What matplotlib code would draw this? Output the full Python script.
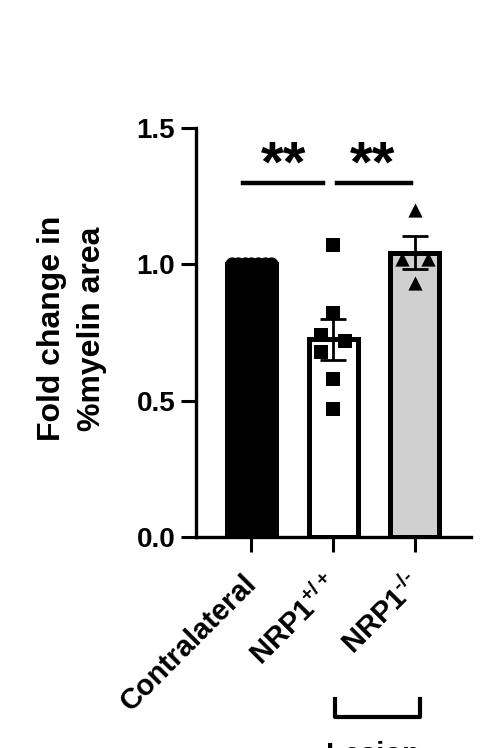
import numpy as np
import matplotlib
matplotlib.use('Agg')
import matplotlib.pyplot as plt
import matplotlib.transforms as mtransforms

plt.rcParams['font.family'] = ['Liberation Sans', 'DejaVu Sans']
plt.rcParams['font.weight'] = 'bold'
plt.rcParams['mathtext.fontset'] = 'custom'
plt.rcParams['mathtext.rm'] = 'Liberation Sans:bold'
plt.rcParams['mathtext.bf'] = 'Liberation Sans:bold'

# data
groups = ['Contralateral', r'NRP1$^{+/+}$', r'NRP1$^{\text{-/-}}$']
contra_pts = [1.0, 1.0, 1.0, 1.0, 1.0, 1.0, 1.0]
wt_pts = [1.07, 0.82, 0.74, 0.72, 0.68, 0.58, 0.47]
ko_pts = [1.20, 1.02, 1.02, 0.93]
ko_sem_up = 0.06
wt_sem_up = 0.075
sig_labels = ['**', '**']

points = [contra_pts, wt_pts, ko_pts]
means = [np.mean(p) for p in points]
sems = [0.0, wt_sem_up, ko_sem_up]
fills = ['black', 'white', '#d0d0d0']
markers = ['o', 's', '^']

fig = plt.figure(figsize=(4.97, 7.48), dpi=100)
ax = fig.add_axes([196/497, 211/748, (471-196)/497, (537-128)/748])

x = np.arange(len(groups))
ax.bar(x, means, width=0.6, color=fills, edgecolor='black', linewidth=3.6, zorder=2)
ax.errorbar(x[1:], means[1:], yerr=sems[1:], fmt='none', ecolor='black',
            elinewidth=2.0, capsize=9.5, capthick=2.0, zorder=3)

# scatter of individual values
offsets = {0: np.linspace(-0.24, 0.24, len(contra_pts)),
           1: [0, 0, -0.15, 0.15, -0.15, 0, 0],
           2: [0, -0.16, 0.16, 0]}
for i, pts in enumerate(points):
    ax.scatter(x[i] + np.array(offsets[i]), pts, marker=markers[i], s=105,
               color='black', zorder=4, linewidths=0)

# significance bars
ax.plot([-0.1, 0.88], [1.30, 1.30], color='black', lw=3.2, clip_on=False)
ax.plot([1.05, 1.95], [1.30, 1.30], color='black', lw=3.2, clip_on=False)
ax.text(0.39, 1.36, sig_labels[0], ha='center', va='center', fontsize=42, fontweight='bold')
ax.text(1.48, 1.36, sig_labels[1], ha='center', va='center', fontsize=42, fontweight='bold')

ax.set_xlim(-0.68, 2.69)
ax.set_ylim(0, 1.5)
ax.set_yticks([0, 0.5, 1.0, 1.5])
ax.set_yticklabels(['0.0', '0.5', '1.0', '1.5'])
ax.set_xticks(x)
ax.set_xticklabels(groups, rotation=45, ha='right', rotation_mode='anchor')
ax.tick_params(axis='both', width=2.2, length=11, labelsize=20, pad=4)
ax.tick_params(axis='x', labelsize=21, pad=12)
shift = mtransforms.ScaledTranslation(-9/100, 0, fig.dpi_scale_trans)
for lab in ax.get_xticklabels():
    lab.set_transform(lab.get_transform() + shift)
for s in ['top', 'right']:
    ax.spines[s].set_visible(False)
for s in ['left', 'bottom']:
    ax.spines[s].set_linewidth(2.4)

ax.set_ylabel('Fold change in\n%myelin area', fontsize=23, fontweight='bold',
              linespacing=1.42)
ax.yaxis.set_label_coords(-0.325, 0.51)

# lesion bracket under the two NRP1 groups
trans = ax.get_xaxis_transform()
ax.plot([1.02, 1.02, 2.06, 2.06], [-0.395, -0.44, -0.44, -0.395], color='black',
        lw=3.0, transform=trans, clip_on=False)
ax.text(1.49, -0.498, 'Lesion', ha='center', va='top', fontsize=21,
        fontweight='bold', transform=trans)

fig.savefig('out.png', dpi=100)
